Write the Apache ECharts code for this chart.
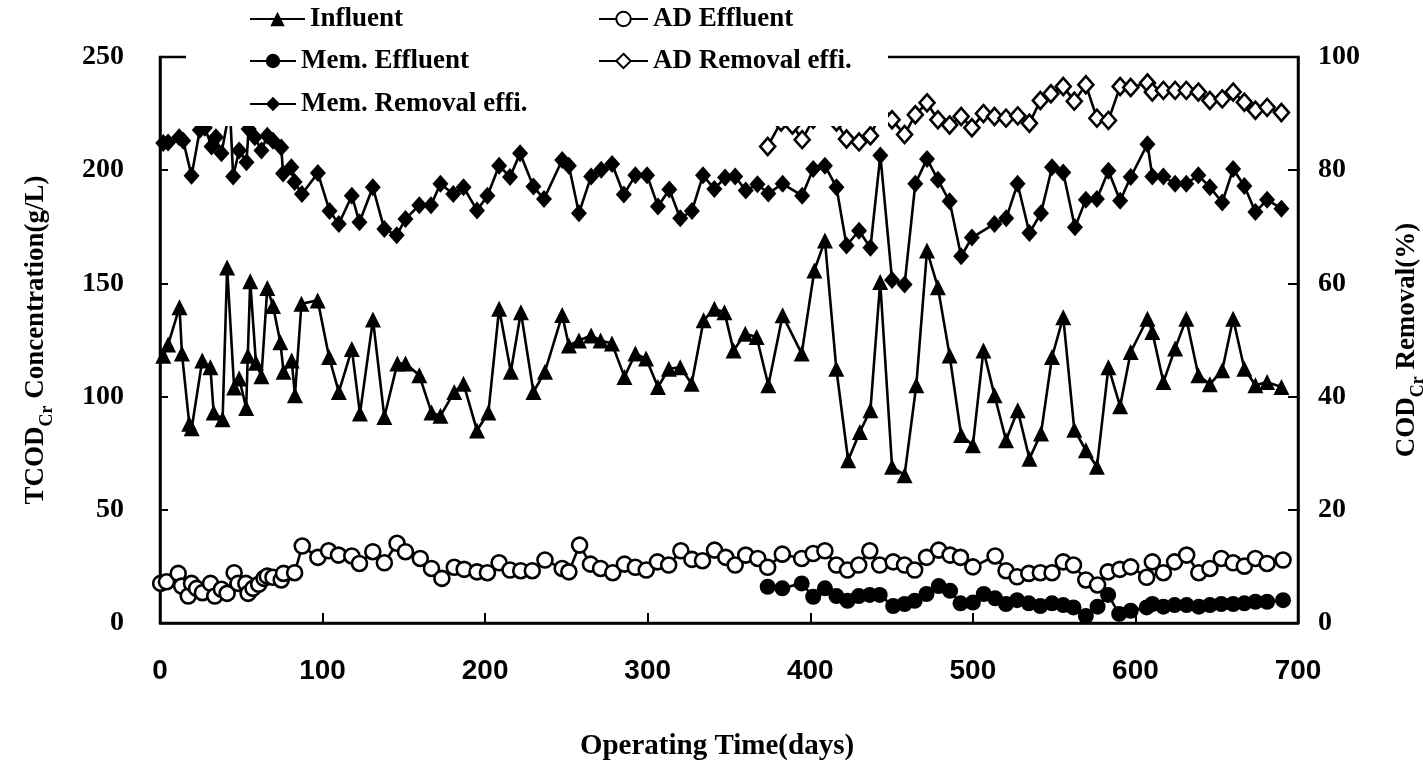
<!DOCTYPE html>
<html>
<head>
<meta charset="utf-8">
<title>TCODCr concentration and COD removal</title>
<script src="https://cdn.jsdelivr.net/npm/echarts@6/dist/echarts.min.js"></script>
<style>
  html, body { margin: 0; padding: 0; background: #fff; overflow: hidden; width: 1423px; height: 771px; }
  #chart { width: 1423px; height: 771px; }
</style>
</head>
<body>
<div id="chart"></div>
<script>
// ---- Influent TCODCr (g/L) ----
const influentDays = [2, 5, 12, 13.5, 18, 19.5, 26, 31, 33, 38.5, 41.3, 45.6, 48.7, 53, 54, 55.5, 59, 62.4, 66, 69.5, 74, 76, 81, 83, 87, 97, 104, 110, 118, 123, 131, 138, 146, 151, 159.5, 167, 172.5, 181, 186.7, 195, 202, 208.6, 215.8, 222, 229.7, 236.8, 247.4, 251.5, 257.7, 265.2, 271, 278, 285.7, 292.4, 299, 306.3, 313, 320, 327, 334.4, 341, 347.2, 352.8, 360, 367, 374.2, 383, 394.7, 402.5, 409, 416, 423.3, 430.5, 437, 443, 450.3, 458, 465.2, 471.8, 478.5, 485.7, 492.8, 500, 506.5, 513.3, 520.4, 527.6, 534.8, 541.9, 548.7, 555.6, 562.4, 569.5, 576.3, 583.4, 590.6, 597.1, 607.4, 610.4, 617.2, 624.4, 631.3, 638.7, 645.8, 653.4, 660.1, 667, 673.8, 681, 689.8];
const influentValues = [118, 123, 139.5, 119, 88, 86, 116, 113, 93, 90, 157, 104, 108, 95, 118, 151, 115, 109, 148, 140, 124, 111, 116, 100.6, 141, 142.5, 117.5, 102, 121, 92.5, 134, 91, 114.6, 114.6, 109.4, 93, 91.5, 102, 105.7, 85, 93, 138.8, 111, 137.3, 102, 111, 136, 122.6, 124.8, 127, 124.8, 123.4, 108.7, 119, 116.8, 104.2, 112.3, 113, 105.7, 133.7, 138.8, 137.3, 120.4, 127.8, 126.3, 105, 135.9, 119, 155.7, 169, 112.3, 71.9, 84.4, 94, 150.6, 69, 65.3, 105, 164.5, 148.3, 118.2, 83, 78.5, 120.4, 100.6, 80.7, 94, 72.6, 83.7, 117.5, 135.1, 85.4, 76.3, 69, 113, 95.7, 119.7, 134.4, 128.5, 106.4, 121.2, 134.4, 109.4, 105.4, 111.6, 134.4, 112.3, 105, 106.4, 104.2];

// ---- AD effluent TCODCr (g/L) ----
const adEffDays = [0.4, 4, 11.2, 13.3, 17.4, 19.4, 22.5, 26.1, 31.1, 33.7, 37.8, 41.3, 45.6, 48, 52.8, 54.2, 57.2, 60.7, 64, 66, 69.5, 74.6, 76, 82.8, 87.5, 97.1, 103.7, 109.8, 118, 122.7, 130.9, 138, 145.8, 151, 160.1, 167, 173.4, 181, 187.1, 195, 201.4, 208.6, 215.3, 221.9, 229, 236.8, 247.4, 251.5, 258.1, 264.8, 271, 278.5, 285.7, 292.4, 299.1, 306, 312.9, 320.4, 327.2, 333.7, 341.1, 348, 353.8, 360.3, 367.7, 373.8, 382.8, 394.7, 401.8, 409, 416.1, 422.9, 429.8, 436.6, 442.7, 451, 458, 464.2, 471.5, 479, 486, 492.4, 500, 513.7, 520.4, 527.2, 534.4, 541.5, 548.7, 555.6, 561.9, 569.5, 576.7, 583.2, 590.4, 597.1, 606.9, 610.4, 617.2, 624.1, 631.5, 639, 645.8, 652.8, 660.1, 667, 673.8, 681, 690.8];
const adEffValues = [17.5, 18.2, 21.9, 16.3, 11.9, 17.5, 15.3, 13.4, 17.5, 11.9, 14.9, 13.1, 22.2, 17.5, 17.5, 13.1, 15.3, 17.1, 19.7, 20.7, 20.2, 19, 21.9, 22.2, 34, 29, 31.9, 30, 29.6, 26.3, 31.5, 26.6, 35.2, 31.5, 28.5, 24.1, 19.7, 24.6, 23.7, 22.6, 22.2, 26.6, 23.4, 23.1, 23.1, 27.8, 24.1, 22.6, 34.4, 26, 24.1, 22.2, 26, 24.6, 23.4, 27, 25.6, 31.9, 28.1, 27.5, 32.2, 29, 25.6, 30, 28.5, 24.6, 30.4, 28.5, 30.7, 31.9, 25.6, 23.4, 25.6, 31.9, 25.6, 27, 25.6, 23.4, 29, 32.2, 30, 29, 24.8, 29.6, 23.1, 20.4, 21.9, 22.2, 22.2, 27, 25.6, 19, 16.8, 22.6, 23.7, 24.8, 20.2, 27, 22.2, 27, 30, 22.2, 24.1, 28.5, 26.6, 25.1, 28.5, 26.3, 27.8];

// ---- Membrane effluent TCODCr (g/L) ----
const memEffDays = [373.8, 382.8, 394.7, 401.8, 409, 416.1, 422.9, 429.8, 436.6, 442.7, 451, 458, 464.2, 471.5, 479, 486, 492.4, 500, 506.7, 513.7, 520.4, 527.2, 534.4, 541.5, 548.7, 555.6, 561.9, 569.5, 576.7, 583.2, 590, 597.1, 606.9, 610.4, 617.2, 624.1, 631.5, 639, 645.8, 652.8, 660.1, 667, 673.8, 681, 690.8];
const memEffValues = [16, 15.3, 17.5, 11.6, 15.3, 11.9, 9.8, 11.9, 12.4, 12.4, 7.5, 8.4, 9.8, 12.8, 16.3, 14.2, 8.7, 9, 12.8, 10.9, 8.4, 10.1, 8.7, 7.5, 8.7, 7.9, 6.9, 3.1, 7.2, 12.4, 4, 5.4, 6.9, 8.4, 7.2, 7.9, 7.9, 7.2, 7.9, 8.4, 8.4, 8.7, 9.4, 9.4, 10.1];

// ---- AD removal efficiency (%) ----
const adRemDays = [373.8, 382, 389, 395, 401.8, 409, 416.1, 422.3, 430, 437, 443.1, 450.3, 458, 464.6, 471.8, 478.5, 485.7, 492.8, 499.4, 506.5, 513.3, 520.4, 527.6, 534.8, 541.5, 548, 555.6, 562.4, 569.5, 576.3, 583.4, 590.6, 597.1, 607.4, 610.4, 617.2, 624.4, 631.3, 638.7, 645.8, 653.4, 660.1, 667, 673.8, 681, 689.8];
const adRemValues = [84.2, 88.5, 88, 85.4, 89, 90, 88.5, 85.5, 85, 86.1, 90, 88.9, 86.3, 89.8, 91.9, 88.9, 88, 89.5, 87.5, 90, 89.5, 89.2, 89.6, 88.3, 92.3, 93.5, 94.8, 92.2, 95.1, 89.2, 88.8, 94.8, 94.6, 95.4, 93.8, 94.1, 94.1, 94.1, 93.8, 92.3, 92.6, 93.8, 92, 90.6, 91.1, 90.2];

// ---- Membrane removal efficiency (%) ----
const memRemDays = [2, 5, 11.8, 14.3, 19.4, 24.5, 27.6, 31.7, 34.4, 37.8, 43, 45, 48.7, 53.2, 54.5, 58.3, 62.4, 66, 69.5, 74.6, 75.7, 80.8, 82.8, 87.3, 97.1, 104.3, 110, 118, 122.7, 130.9, 138, 145.6, 151, 159.5, 166.7, 172.5, 180.4, 186.7, 195, 201.4, 208.6, 215.3, 221.5, 229.7, 236.2, 247.4, 251.5, 257.7, 265.2, 271.4, 278.1, 285.3, 292.4, 299.6, 306.3, 313.3, 320, 327.2, 334, 341, 347.6, 353.8, 360.3, 367.5, 374.2, 383, 395, 401.8, 409, 416.1, 422.3, 430, 437, 443.1, 450.3, 458, 464.6, 471.8, 478.5, 485.7, 492.8, 499.4, 513.3, 520.5, 527.5, 534.8, 541.9, 548.7, 555.6, 562.8, 569.5, 576.3, 583.4, 590.6, 597.1, 607.4, 610.4, 617.2, 624.4, 631.3, 638.7, 645.8, 653.4, 660.1, 667, 673.8, 681, 689.8];
const memRemValues = [84.8, 84.9, 85.8, 85.2, 79, 87.1, 87.5, 84.2, 85.8, 83, 91, 78.9, 83.5, 81.4, 87.3, 85.8, 83.5, 86.1, 85.2, 84, 79.4, 80.5, 77.9, 75.8, 79.5, 72.8, 70.5, 75.5, 70.8, 77, 69.6, 68.5, 71.4, 73.8, 73.8, 77.6, 75.8, 77, 72.9, 75.5, 80.8, 78.8, 83, 77.1, 74.9, 81.8, 80.8, 72.4, 78.9, 80.1, 81.1, 75.7, 79.1, 79.1, 73.6, 76.6, 71.5, 72.8, 79.1, 76.7, 78.7, 78.9, 76.4, 77.5, 75.9, 77.6, 75.5, 80.2, 80.8, 77, 66.7, 69.3, 66.3, 82.6, 60.6, 59.8, 77.6, 82, 78.3, 74.5, 64.8, 68.1, 70.5, 71.5, 77.6, 68.9, 72.4, 80.5, 79.6, 69.9, 74.8, 74.9, 79.9, 74.6, 78.8, 84.6, 78.9, 78.9, 77.6, 77.6, 79.1, 77, 74.3, 80.2, 77.2, 72.6, 74.8, 73.2];

// ---- axis ticks ----
const xTicks = { min: 0, max: 700, step: 100 };
const leftTicks = { min: 0, max: 250, step: 50 };
const rightTicks = { min: 0, max: 100, step: 20 };

const SERIF = '"Liberation Serif", "Times New Roman", serif';
const SANS = '"Liberation Sans", Arial, sans-serif';
const INK = '#000';

function pairs(days, values) {
  return days.map((d, i) => [d, values[i]]);
}

function lineSeries(name, days, values, yAxisIndex, symbol, size, open) {
  return {
    name: name,
    type: 'line',
    yAxisIndex: yAxisIndex,
    data: pairs(days, values),
    symbol: symbol,
    symbolSize: size,
    showAllSymbol: true,
    lineStyle: { color: INK, width: 2.6 },
    itemStyle: open
      ? { color: '#fff', borderColor: INK, borderWidth: 2.6 }
      : { color: INK, borderColor: INK, borderWidth: 0 },
    emphasis: { disabled: true },
    z: 3
  };
}

const legendText = { fontFamily: SERIF, fontWeight: 'bold', fontSize: 27, color: INK, lineHeight: 30 };
function legendBlock(names, left, top, lineLen, gap) {
  return {
    data: names, orient: 'vertical', left: left, top: top, padding: 0,
    itemWidth: lineLen, itemHeight: 18, itemGap: gap,
    textStyle: legendText, z: 20, selectedMode: false
  };
}

const chart = echarts.init(document.getElementById('chart'), null, { renderer: 'canvas', width: 1423, height: 771 });

chart.setOption({
  animation: false,
  backgroundColor: '#fff',
  grid: {
    left: 160, right: 125, top: 57, bottom: 148,
    outerBoundsMode: 'none',
    show: true, borderColor: INK, borderWidth: 2.5, backgroundColor: 'transparent'
  },
  legend: [
    legendBlock(['Influent'], 249, 4, 55, 13),
    legendBlock(['Mem. Effluent', 'Mem. Removal effi.'], 249, 46, 46, 13),
    legendBlock(['AD Effluent', 'AD Removal effi.'], 598, 4, 49, 12)
  ],
  graphic: [
    {
      // white legend panel laid over the top-left of the plot frame
      type: 'rect', z: 10,
      shape: { x: 186, y: 0, width: 702, height: 126 },
      style: { fill: '#fff' },
      silent: true
    }
  ],
  xAxis: {
    type: 'value',
    min: xTicks.min, max: xTicks.max, interval: xTicks.step,
    name: 'Operating Time(days)',
    nameLocation: 'middle', nameGap: 109,
    nameTextStyle: { fontFamily: SERIF, fontWeight: 'bold', fontSize: 29, color: INK, padding: [0, 24, 0, 0] },
    axisLine: { show: true, lineStyle: { color: INK, width: 2.5 } },
    axisTick: { show: true, inside: true, length: 10, lineStyle: { color: INK, width: 2 } },
    axisLabel: { fontFamily: SANS, fontWeight: 'bold', fontSize: 28, color: INK, margin: 34 },
    splitLine: { show: false }
  },
  yAxis: [
    {
      type: 'value', position: 'left',
      min: leftTicks.min, max: leftTicks.max, interval: leftTicks.step,
      name: '{a|TCOD}{s|Cr}{a| Concentration(g/L)}',
      nameLocation: 'middle', nameGap: 107, nameRotate: 90,
      nameTextStyle: {
        rich: {
          a: { fontFamily: SERIF, fontWeight: 'bold', fontSize: 27, color: INK, lineHeight: 34, verticalAlign: 'middle' },
          s: { fontFamily: SERIF, fontWeight: 'bold', fontSize: 18, color: INK, lineHeight: 34, verticalAlign: 'bottom', padding: [0, 0, -3, 0] }
        }
      },
      axisLine: { show: true, lineStyle: { color: INK, width: 2.5 } },
      axisTick: { show: true, inside: true, length: 8, lineStyle: { color: INK, width: 2 } },
      axisLabel: { fontFamily: SERIF, fontWeight: 'bold', fontSize: 28, color: INK, margin: 36 },
      splitLine: { show: false }
    },
    {
      type: 'value', position: 'right',
      min: rightTicks.min, max: rightTicks.max, interval: rightTicks.step,
      name: '{a|COD}{s|Cr}{a| Removal(%)}',
      nameLocation: 'middle', nameGap: 92, nameRotate: 90,
      nameTextStyle: {
        rich: {
          a: { fontFamily: SERIF, fontWeight: 'bold', fontSize: 27, color: INK, lineHeight: 34, verticalAlign: 'middle' },
          s: { fontFamily: SERIF, fontWeight: 'bold', fontSize: 18, color: INK, lineHeight: 34, verticalAlign: 'bottom', padding: [0, 0, -3, 0] }
        }
      },
      axisLine: { show: true, lineStyle: { color: INK, width: 2.5 } },
      axisTick: { show: true, inside: true, length: 10, lineStyle: { color: INK, width: 2 } },
      axisLabel: { fontFamily: SERIF, fontWeight: 'bold', fontSize: 28, color: INK, margin: 20 },
      splitLine: { show: false }
    }
  ],
  series: [
    lineSeries('Influent', influentDays, influentValues, 0, 'triangle', 16, false),
    lineSeries('AD Effluent', adEffDays, adEffValues, 0, 'circle', 15, true),
    lineSeries('Mem. Effluent', memEffDays, memEffValues, 0, 'circle', 16, false),
    lineSeries('AD Removal effi.', adRemDays, adRemValues, 1, 'diamond', [15, 17], true),
    lineSeries('Mem. Removal effi.', memRemDays, memRemValues, 1, 'diamond', [16, 18], false)
  ]
});
</script>
</body>
</html>
